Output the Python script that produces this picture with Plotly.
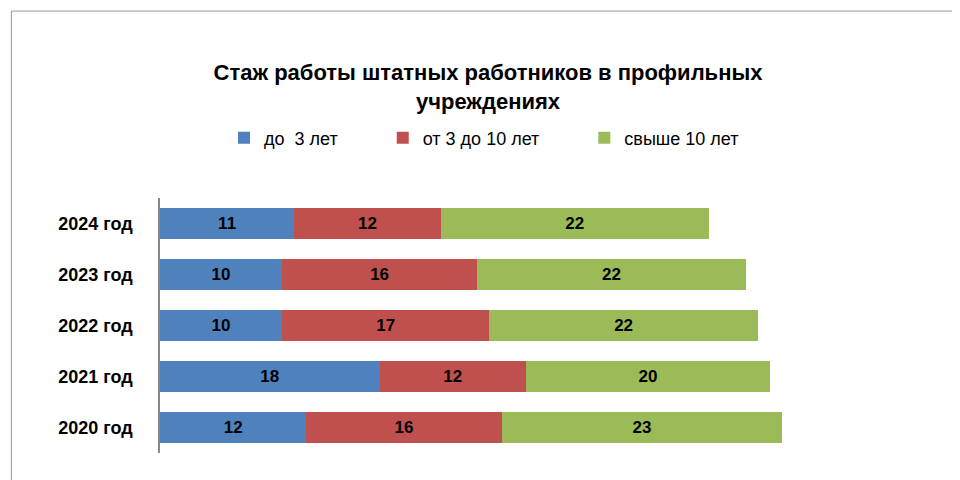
import plotly.graph_objects as go

years = ["2020 год", "2021 год", "2022 год", "2023 год", "2024 год"]
up_to_3 = [12, 18, 10, 10, 11]
from_3_to_10 = [16, 12, 17, 16, 12]
over_10 = [23, 20, 22, 22, 22]

series = [
    ("до  3 лет", up_to_3, "#4F81BD"),
    ("от 3 до 10 лет", from_3_to_10, "#C0504D"),
    ("свыше 10 лет", over_10, "#9BBB59"),
]

fig = go.Figure()
for name, vals, color in series:
    fig.add_trace(go.Bar(
        y=years, x=vals, name=name + "        ", orientation="h",
        marker={"color": color, "line": {"width": 0}},
        text=[f"<b>{v}</b>" for v in vals], textposition="inside",
        insidetextanchor="middle",
        textfont={"family": "Liberation Sans", "size": 17, "color": "black"},
        width=0.6,
    ))

fig.update_layout(
    barmode="stack",
    width=960, height=480,
    paper_bgcolor="white", plot_bgcolor="white",
    font={"family": "Liberation Sans"},
    title={
        "text": "<b>Стаж работы штатных работников в профильных<br>учреждениях</b>",
        "x": 0.5, "xanchor": "center", "y": 0.85, "yanchor": "middle",
        "font": {"size": 22, "color": "black"},
    },
    legend={
        "orientation": "h", "x": 0.47, "xanchor": "center", "y": 1.235,
        "yanchor": "middle", "font": {"size": 18, "color": "black"},
        "traceorder": "normal",
    },
    margin={"l": 152, "r": 76, "t": 190, "b": 35},
    showlegend=True,
)
fig.update_xaxes(range=[0, 60], visible=False)
fig.update_yaxes(
    showline=True, linecolor="#888", linewidth=1.5, ticks="",
    tickfont={"size": 18, "color": "black", "family": "Liberation Sans"},
    tickprefix="<b>", ticksuffix="</b>",
    ticklabelstandoff=22,
)
fig.add_shape(type="rect", xref="paper", yref="paper", x0=-0.203, x1=1.097,
              y0=-0.125, y1=1.733, line={"color": "#999", "width": 1})
fig.write_html("out.html")
